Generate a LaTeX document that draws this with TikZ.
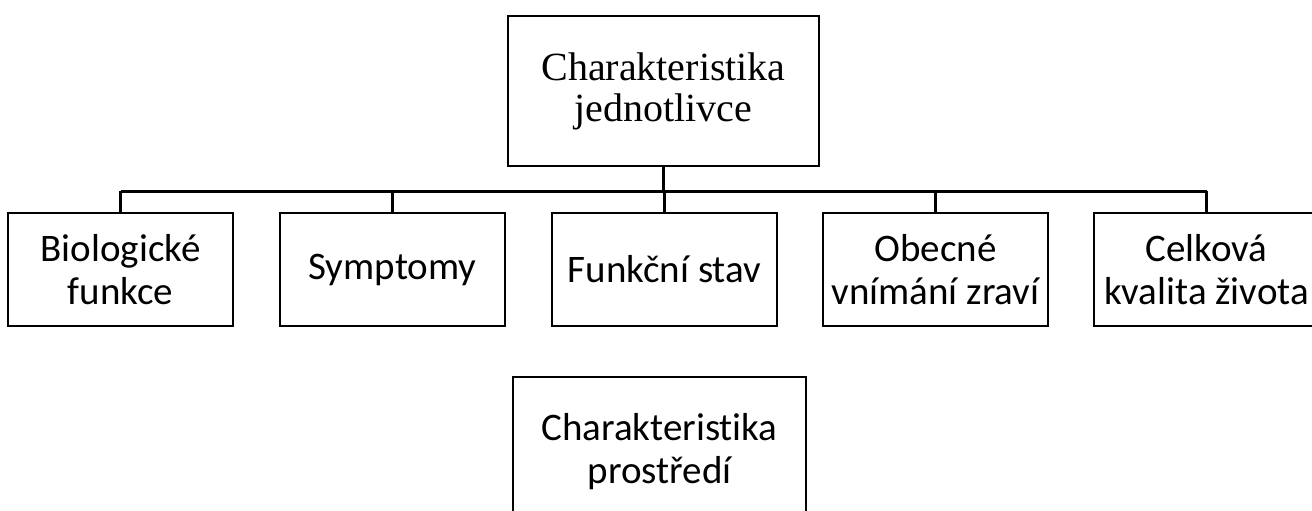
\documentclass[tikz,border=0pt]{standalone}
\usepackage{fontspec}
\setmainfont{Liberation Serif}
\newfontfamily\calibfont[Ligatures=NoCommon,RawFeature=-liga]{Carlito}
\begin{document}
\begin{tikzpicture}[x=1pt,y=-1pt,
  lowbox/.style={draw, line width=2.2pt, inner sep=0pt, align=center,
    font=\calibfont\fontsize{39}{43}\selectfont,
    minimum width=225pt, minimum height=113pt},
  bigbox/.style={draw, line width=2.2pt, inner sep=0pt, align=center,
    minimum height=150pt},
  busline/.style={line width=3pt},
  dropline/.style={line width=2.2pt}]
\useasboundingbox (0,0) rectangle (1312,511);
\clip (0,0) rectangle (1312,511);

\node[bigbox, minimum width=311pt, font=\rmfamily\fontsize{40}{41}\selectfont]
  (top) at (663.5,91) {Charakteristika\\jednotlivce};

\node[lowbox] (b1) at (120.5,269.5) {Biologické\\funkce};
\node[lowbox] (b2) at (392.5,269.5) {Symptomy};
\node[lowbox] (b3) at (664.5,269.5) {Funkční stav};
\node[lowbox] (b4) at (935.5,269.5) {Obecné\\vnímání zraví};
\node[lowbox] (b5) at (1206.5,269.5) {Celková\\kvalita života};

\node[bigbox, minimum width=293pt, font=\calibfont\fontsize{39}{43}\selectfont]
  (env) at (659.5,452) {Charakteristika\\prostředí};

\coordinate (bus) at (0,191);
\draw[busline] (top.south) -- (top.south |- bus);
\draw[busline] (b1.north |- bus) -- (b5.north |- bus);
\foreach \b in {b1,b2,b3,b4,b5}
  \draw[dropline] (\b.north |- bus) -- (\b.north);
\end{tikzpicture}
\end{document}
